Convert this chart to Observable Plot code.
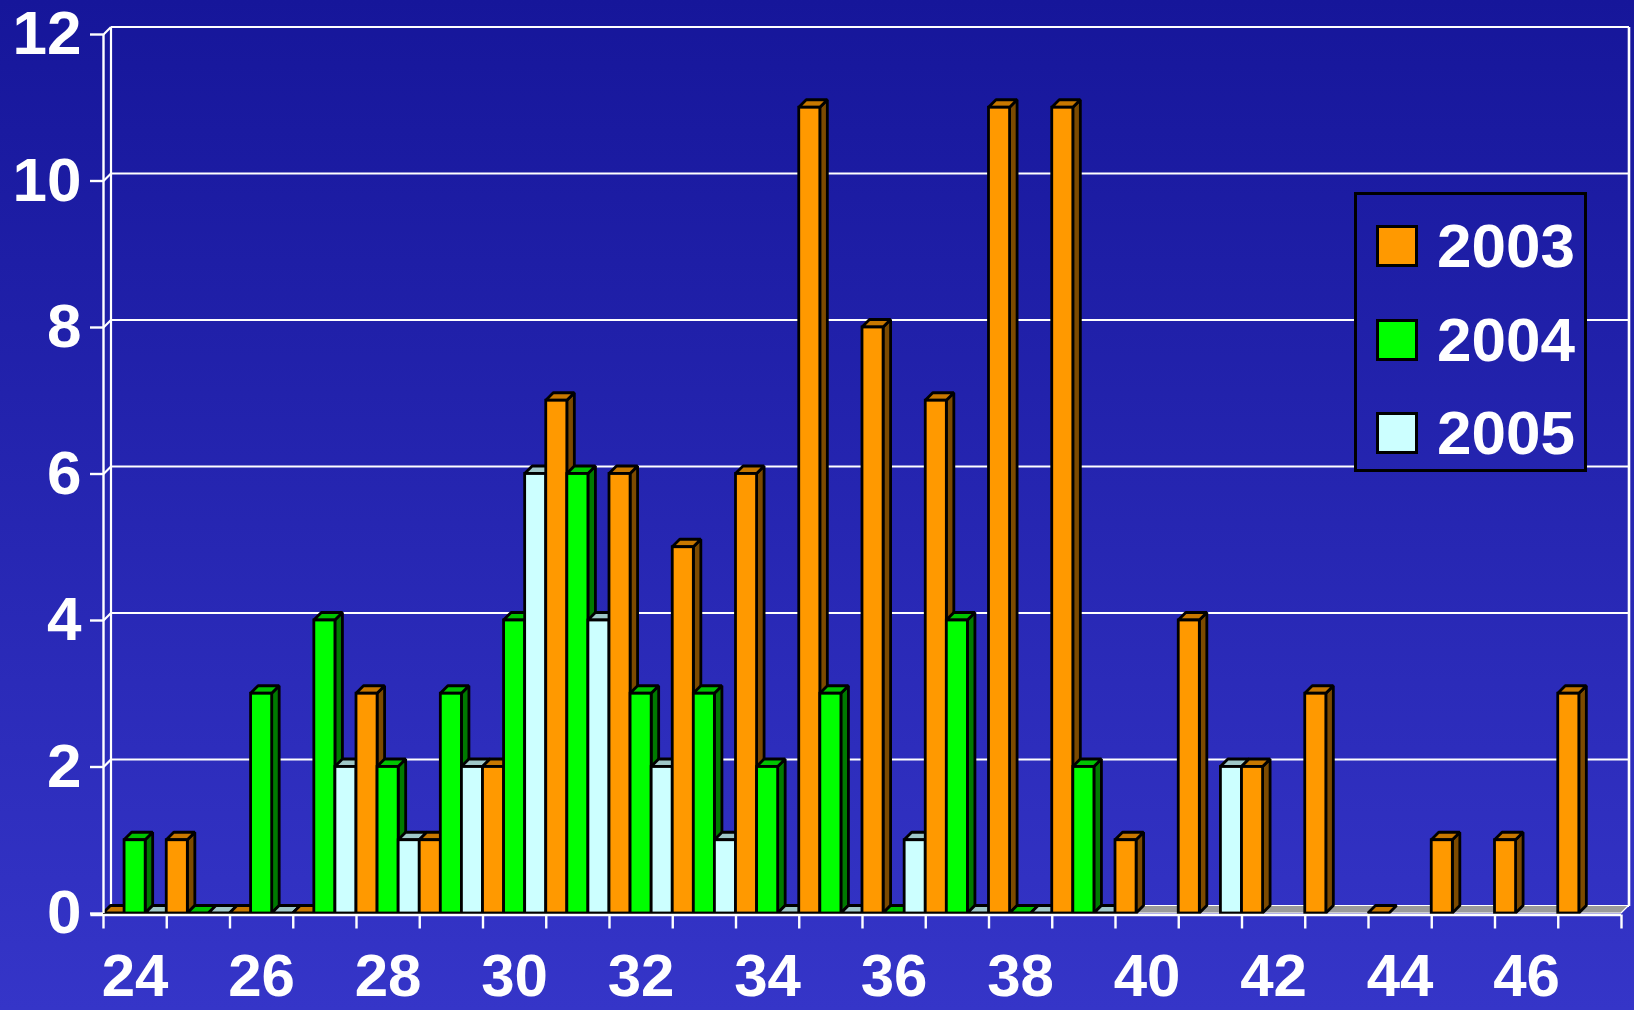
<!DOCTYPE html>
<html>
<head>
<meta charset="utf-8">
<script src="https://cdn.jsdelivr.net/npm/d3@7"></script>
<script src="https://cdn.jsdelivr.net/npm/@observablehq/plot@0.6"></script>
<style>
  html, body { margin: 0; padding: 0; }
  body {
    width: 1634px; height: 1010px; overflow: hidden; position: relative;
    background: linear-gradient(#16169a, #3535c8) fixed;
    font-family: "Liberation Sans", Arial, sans-serif;
  }
  #chart { position: absolute; left: 0; top: 0; }
  #legend {
    position: absolute; left: 1354px; top: 192px; width: 227px; height: 274px;
    border: 3px solid #000;
    background: linear-gradient(#16169a, #3535c8) fixed;
    background-size: 1634px 1010px;
  }
  .item { position: absolute; left: 0; height: 46px; display: flex; align-items: center; }
  .sw { width: 36px; height: 36px; border: 3px solid #000; margin-left: 19px; }
  .lab { color: #fff; font-weight: bold; font-size: 62px; margin-left: 19px; line-height: 46px; }
</style>
</head>
<body>
<div id="chart"></div>
<div id="legend"></div>
<script>
// ---- data ----
const categories = [24,25,26,27,28,29,30,31,32,33,34,35,36,37,38,39,40,41,42,43,44,45,46,47];
const seriesNames = ["2003", "2004", "2005"];
const values2003 = [0,1,0,0,3,1,2,7,6,5,6,11,8,7,11,11,1,4,2,3,0,1,1,3];
const values2004 = [1,0,3,4,2,3,4,6,3,3,2,3,0,4,0,2,null,null,null,null,null,null,null,null];
const values2005 = [0,0,0,2,1,2,6,4,2,1,0,0,1,0,0,0,null,2,null,null,null,null,null,null];
const xLabelTicks = [24,26,28,30,32,34,36,38,40,42,44,46];
const yTicks = [0,2,4,6,8,10,12];
const frontColors = ["#ff9900", "#00ff00", "#ccffff"];
const topColors = ["#c87800", "#00c400", "#9fc8c8"];
const sideColors = ["#7c4a00", "#007a00", "#6a8a8a"];

// ---- layout ----
const W = 1634, H = 1010;
const mL = 103, mR = 13, mT = 34, mB = 97;
const xDomain = [categories[0] - 0.5, categories[categories.length - 1] + 0.5];
const yDomain = [0, 12];
const depthPx = 7.5;
const DX = depthPx * (xDomain[1] - xDomain[0]) / (W - mL - mR);
const DY = depthPx * (yDomain[1] - yDomain[0]) / (H - mT - mB);

const seriesValues = [values2003, values2004, values2005];
const bars = [];
categories.forEach((c, i) => {
  seriesValues.forEach((vals, j) => {
    const v = vals[i];
    if (v == null) return;
    bars.push({
      id: `${c}-${j}`, series: seriesNames[j], cat: c, v,
      x1: c - 0.5 + j / 3, x2: c - 0.5 + (j + 1) / 3,
      front: frontColors[j], top: topColors[j], side: sideColors[j]
    });
  });
});

const sidePts = [];
const topPts = [];
for (const b of bars) {
  if (b.v > 0) {
    sidePts.push({id: b.id, x: b.x2, y1: 0, y2: b.v, c: b.side});
    sidePts.push({id: b.id, x: b.x2 + DX, y1: DY, y2: b.v + DY, c: b.side});
  }
  topPts.push({id: b.id, x: b.x1, y1: b.v, y2: b.v, c: b.top});
  topPts.push({id: b.id, x: b.x1 + DX, y1: b.v, y2: b.v + DY, c: b.top});
  topPts.push({id: b.id, x: b.x2, y1: b.v, y2: b.v + DY, c: b.top});
  topPts.push({id: b.id, x: b.x2 + DX, y1: b.v + DY, y2: b.v + DY, c: b.top});
}

const floorPts = [
  {x: xDomain[0], y1: 0, y2: 0},
  {x: xDomain[0] + DX, y1: 0, y2: DY},
  {x: xDomain[1], y1: 0, y2: DY},
  {x: xDomain[1] + DX, y1: DY, y2: DY}
];

const boundaries = categories.map(c => c - 0.5).concat([xDomain[1]]);
const gridStroke = "#ffffff";

const plot = Plot.plot({
  width: W, height: H,
  marginLeft: mL, marginRight: mR, marginTop: mT, marginBottom: mB,
  x: {type: "linear", domain: xDomain},
  y: {domain: yDomain},
  color: {type: "identity"},
  style: {background: "transparent", color: "white", fontFamily: "'Liberation Sans', Arial, sans-serif", overflow: "visible"},
  marks: [
    // back wall grid lines
    Plot.link(yTicks, {x1: xDomain[0] + DX, x2: xDomain[1] + DX, y1: t => t + DY, y2: t => t + DY, stroke: gridStroke, strokeWidth: 2.2}),
    Plot.link(yTicks, {x1: xDomain[0], x2: xDomain[0] + DX, y1: t => t, y2: t => t + DY, stroke: gridStroke, strokeWidth: 2.2}),
    // walls
    Plot.link([0], {x1: xDomain[0] + DX, x2: xDomain[0] + DX, y1: DY, y2: yDomain[1] + DY, stroke: gridStroke, strokeWidth: 2.2}),
    Plot.link([0], {x1: xDomain[1] + DX, x2: xDomain[1] + DX, y1: DY, y2: yDomain[1] + DY, stroke: gridStroke, strokeWidth: 2.6}),
    // floor
    Plot.area(floorPts, {x1: "x", y1: "y1", y2: "y2", fill: "#9a9a9a", stroke: "#ffffff", strokeWidth: 1.2}),
    // bars: sides, tops, fronts
    Plot.area(sidePts, {x1: "x", y1: "y1", y2: "y2", z: "id", fill: "c", stroke: "#000", strokeWidth: 2.8, strokeLinejoin: "miter"}),
    Plot.area(topPts, {x1: "x", y1: "y1", y2: "y2", z: "id", fill: "c", stroke: "#000", strokeWidth: 2.8, strokeLinejoin: "miter"}),
    Plot.rect(bars.filter(b => b.v > 0), {x1: "x1", x2: "x2", y1: 0, y2: "v", fill: "front", stroke: "#000", strokeWidth: 2.8}),
    // front axis lines
    Plot.ruleX([xDomain[0]], {y1: 0, y2: yDomain[1], stroke: gridStroke, strokeWidth: 2.4}),
    Plot.ruleY([0], {x1: xDomain[0] - 0.2, x2: xDomain[1], dy: 1.5, stroke: gridStroke, strokeWidth: 2.4}),
    // axes
    Plot.axisY(yTicks, {anchor: "left", tickSize: 13, tickPadding: 9, fontSize: 62, fontWeight: "bold", strokeWidth: 2.4, tickFormat: d3.format("d")}),
    Plot.axisX(boundaries, {anchor: "bottom", tickSize: 14, tickFormat: () => "", strokeWidth: 2.4, dy: 1.5}),
    Plot.axisX(xLabelTicks, {anchor: "bottom", tickSize: 0, tickPadding: 40, fontSize: 60, fontWeight: "bold", tickFormat: d3.format("d")})
  ]
});
document.getElementById("chart").appendChild(plot);

// legend
const legend = document.getElementById("legend");
const legendTops = [28, 122, 215];
seriesNames.forEach((name, j) => {
  const item = document.createElement("div");
  item.className = "item";
  item.style.top = legendTops[j] + "px";
  const sw = document.createElement("div");
  sw.className = "sw";
  sw.style.background = frontColors[j];
  const lab = document.createElement("span");
  lab.className = "lab";
  lab.textContent = name;
  item.appendChild(sw);
  item.appendChild(lab);
  legend.appendChild(item);
});
</script>
</body>
</html>
